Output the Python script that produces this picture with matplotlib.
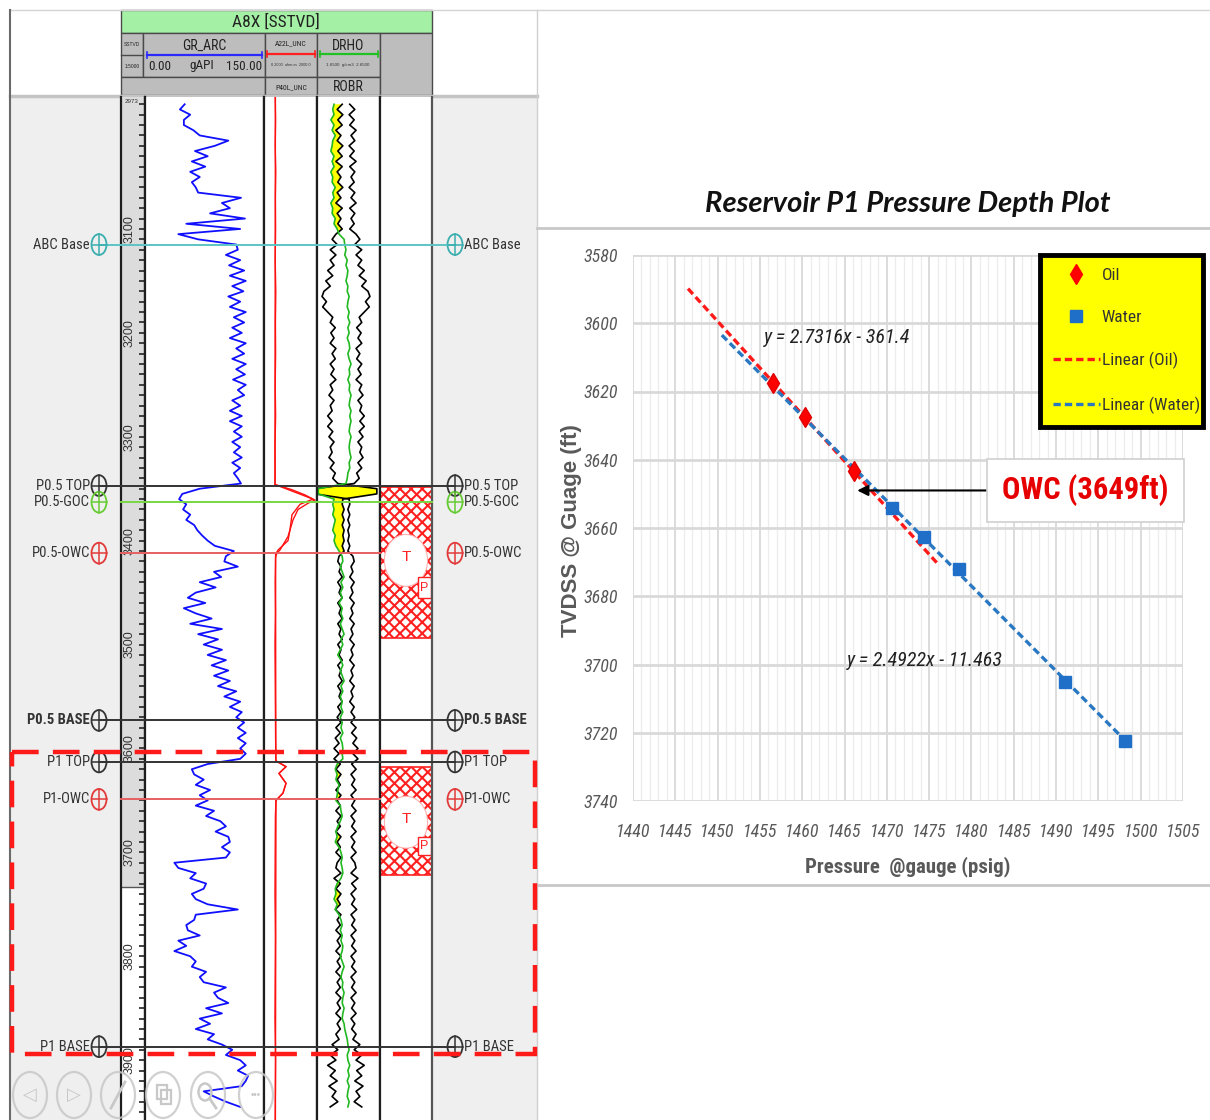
import numpy as np
import matplotlib
matplotlib.use("Agg")
import matplotlib.pyplot as plt
from matplotlib import font_manager as fm
from matplotlib.patches import Rectangle, Ellipse
from matplotlib.lines import Line2D

W, H = 1210, 1120
plt.rcParams["font.family"] = ["Liberation Sans", "DejaVu Sans"]
plt.rcParams["hatch.linewidth"] = 1.5

# pick a narrow sans for the log annotations and chart labels
_fonts = fm.fontManager.ttflist
_names = {f.name for f in _fonts}
if "Liberation Sans Narrow" in _names:
    NARROW = dict(family="Liberation Sans Narrow")
elif "Roboto Condensed" in _names:
    NARROW = dict(family="Roboto Condensed")
elif any(f.name == "DejaVu Sans" and f.stretch == "condensed" for f in _fonts):
    NARROW = dict(family="DejaVu Sans", stretch="condensed")
else:
    NARROW = dict(family="Liberation Sans")

# ---------------- A8X well log (depth ft SSTVD, 5 ft sampling from 2980) ----------------
LOG_START, LOG_STEP = 2980, 5
gr_api = [50, 44, 57, 49, 49, 61, 69, 105, 88, 63, 79, 59, 76, 57, 69, 59, 64, 67, 121, 97, 107, 82, 126, 52, 120, 42,
          67, 115, 117, 102, 120, 106, 125, 107, 127, 110, 124, 105, 120, 107, 127, 112, 125, 110, 122, 107, 127, 115,
          125, 110, 127, 115, 126, 111, 127, 117, 125, 110, 120, 107, 122,
          107, 122,
          112, 122, 110, 120, 112, 122, 110, 120, 112, 117, 121, 69, 47, 43, 52, 48, 57, 52, 62, 66, 72, 79, 88, 112, 102,
          100, 117, 87, 96, 69, 89, 64, 54, 76, 49, 64, 84, 57, 97, 67, 92, 74, 97, 79, 102, 84, 105, 87, 107, 92, 115,
          100, 120, 107, 122, 115, 125, 117, 127, 117, 127, 120,
          127, 120, 79, 59, 62, 74, 64, 82, 69, 79, 64, 87, 77, 95, 102, 89, 105, 107, 97, 107, 102, 37,
          42, 64, 57, 77, 74, 59, 64, 79, 117, 64, 62, 52, 54, 69, 42, 52, 37, 57, 64, 59, 77, 69, 74, 102, 87, 92, 105,
          77, 97, 69, 82, 64, 87, 79, 97, 110, 102, 120, 127, 117, 130, 127, 122, 74, 87, 102, 120]

robr = [2.05, 1.97, 2.06, 1.98, 2.05, 1.95, 2.03, 1.97, 2.06, 1.98, 2.05, 1.95, 2.05, 1.97, 2.03, 1.98, 2.06, 1.97,
        2.03, 1.95, 2.05, 1.97, 2.03, 1.98, 2.05, 1.95,
        1.89, 1.97, 1.86, 1.95, 1.86, 1.92, 1.82, 1.90, 1.79, 1.86, 1.76, 1.73, 1.80, 1.74, 1.82, 1.90, 1.86, 1.94,
        1.87, 1.92, 1.86, 1.95, 1.89, 1.94, 1.86, 1.92, 1.87, 1.95, 1.86, 1.90, 1.84, 1.92, 1.86, 1.89, 1.82,
        1.89, 1.82,
        1.90, 1.84, 1.92, 1.86, 1.89, 1.84, 1.92, 1.86, 1.94, 1.90, 1.98, 2.60, 2.60, 2.06, 2.05, 2.08, 2.05, 2.08,
        2.05, 2.08, 2.06, 2.08, 2.05, 2.08, 2.00,
        1.98, 2.03, 2.00, 2.05, 1.98, 2.03, 2.00, 2.05, 1.98, 2.03, 2.00, 2.05, 1.98, 2.03, 2.00, 2.05, 1.98, 2.03,
        2.00, 2.05, 1.98, 2.03, 2.00, 2.05, 1.98, 2.03, 2.00, 2.05, 1.98, 2.03, 1.97, 2.03, 1.95, 2.02, 1.94, 2.00, 1.92,
        2.00, 1.92, 2.02, 1.95, 2.03, 1.97, 2.02, 1.95, 2.03, 1.97, 2.02, 1.95, 2.03, 1.97, 2.02, 1.95, 2.03, 1.97,
        2.02, 1.95, 2.03, 1.97,
        1.95, 2.03, 1.92, 2.02, 1.95, 2.03, 1.97, 2.02, 1.94, 2.03, 1.97, 2.02, 1.95, 2.03, 1.97, 2.02, 1.95, 2.03,
        1.97, 2.02, 1.95, 2.03, 1.97, 2.02, 1.95, 2.03, 1.97, 2.02, 1.95, 2.03, 1.97, 2.02, 1.95, 2.00,
        1.89, 1.98, 1.86, 1.95, 1.82, 1.94, 1.86, 1.97, 1.84, 1.95, 1.89, 1.98, 1.86]

drho = [1.92, 1.90, 1.92, 1.87, 1.92, 1.89, 1.94, 1.90, 1.89, 1.87, 1.92, 1.89, 1.92, 1.87, 1.90, 1.89, 1.94, 1.90,
        1.92, 1.87, 1.90, 1.89, 1.94, 1.92, 1.97, 2.00,
        2.08, 2.09, 2.11, 2.09, 2.13, 2.11, 2.14, 2.13, 2.11, 2.14, 2.13, 2.16, 2.14, 2.13, 2.16, 2.14, 2.17, 2.14,
        2.16, 2.13, 2.16, 2.17, 2.14, 2.16, 2.19, 2.16, 2.17, 2.14, 2.17, 2.16, 2.19, 2.17, 2.16, 2.19, 2.17,
        2.19, 2.17,
        2.16, 2.19, 2.17, 2.16, 2.17, 2.19, 2.16, 2.17, 2.14, 2.13, 2.11, 1.67, 1.67, 1.92, 1.90, 1.92, 1.90, 1.94,
        1.92, 1.90, 1.94, 1.92, 1.95, 2.00, 2.05,
        2.06, 2.02, 2.05, 2.08, 2.03, 2.06, 2.02, 2.05, 2.00, 2.05, 2.03, 2.06, 2.02, 2.05, 2.08, 2.03, 2.06, 2.02,
        1.98, 2.03, 2.06, 2.02, 2.05, 2.08, 2.03, 2.06, 2.02, 2.05, 2.03, 2.06, 2.02, 2.05, 2.03, 2.06, 2.02, 2.05, 2.06,
        2.05, 2.06, 1.97, 1.94, 1.97, 1.95, 2.00, 1.98, 1.97, 1.95, 2.02, 2.03, 2.05, 2.02, 1.98, 1.95, 1.97, 1.94,
        2.00, 2.03, 2.05, 2.03,
        2.05, 2.06, 2.03, 1.97, 1.94, 1.95, 1.92, 1.97, 1.94, 2.00, 2.03, 2.05, 2.02, 2.05, 2.03, 2.06, 2.05, 2.02,
        2.05, 2.08, 2.05, 2.03, 2.06, 2.05, 2.08, 2.06, 2.05, 2.08, 2.06, 2.05, 2.08, 2.09, 2.11, 2.13,
        2.14, 2.16, 2.13, 2.14, 2.17, 2.14, 2.16, 2.13, 2.16, 2.14, 2.13, 2.16, 2.14]
ROBR_AXIS = 2.11  # ROBR is shown mirrored about this value

res_depth = [2973, 2995, 3020, 3045, 3070, 3100, 3130, 3160, 3190, 3220, 3250, 3280, 3310, 3335, 3346,
             3351, 3356, 3361, 3364, 3370, 3380, 3396, 3409, 3412, 3416, 3440, 3470, 3500, 3530, 3560,
             3590, 3612, 3617.5, 3624, 3633.5, 3643, 3650, 3665, 3700, 3740, 3780, 3820, 3860, 3900, 3958]
a22l = [1.4, 1.5, 1.4, 1.55, 1.45, 1.5, 1.4, 1.55, 1.45, 1.5, 1.4, 1.5, 1.35, 1.4, 1.35,
        26, 249, 1416, 419, 74, 31, 13, 3.2, 1.9, 1.5, 1.4, 1.45, 1.35, 1.4, 1.45,
        1.5, 1.6, 9.2, 2.7, 9.2, 5.4, 1.6, 1.45, 1.4, 1.35, 1.45, 1.4, 1.35, 1.5, 1.4]
p40l_depth = [2973, 3346, 3360, 3365, 3375, 3390, 3400, 3409, 3413, 3612, 3617.5, 3624, 3633.5, 3643, 3650, 3958]
p40l = [1.45, 1.35, 1000, 105, 26, 18, 13, 2.3, 1.5, 1.55, 9.2, 2.7, 9.2, 5.4, 1.6, 1.45]

top_names = ["ABC Base", "P0.5 TOP", "P0.5-GOC", "P0.5-OWC", "P0.5 BASE", "P1 TOP", "P1-OWC", "P1 BASE"]
top_depths = [3115, 3347, 3363, 3412, 3573, 3613, 3649, 3887]
top_colors = ["#3aaeae", "#333333", "#66cc33", "#e23a3a", "#333333", "#333333", "#e23a3a", "#333333"]

test_intervals = [(3348, 3494), (3617.5, 3722)]
test_t_depth = [3419, 3671]
test_p_box = [(3434.7, 3455.5), (3685, 3702.5)]

# ---------------- reservoir P1 pressure points ----------------
oil_pressure = [1456.6, 1460.3, 1466.1]
oil_depth = [3617.5, 3627.6, 3643.3]
water_pressure = [1470.6, 1474.4, 1478.5, 1491.1, 1498.2]
water_depth = [3654.0, 3662.5, 3672.1, 3705.2, 3722.3]
oil_fit = (2.7316, -361.4)
water_fit = (2.4922, -11.463)
oil_fit_range = (1446.5, 1476.0)
water_fit_range = (1450.5, 1498.5)
owc_depth = 3649
owc_pressure = 1466.5


def frac(x0, y0, x1, y1):
    return [x0 / W, 1 - y1 / H, (x1 - x0) / W, (y1 - y0) / H]


fig = plt.figure(figsize=(W / 100, H / 100), dpi=100)
fig.patch.set_facecolor("white")

bg = fig.add_axes([0, 0, 1, 1], zorder=0)
bg.set_xlim(0, W)
bg.set_ylim(H, 0)
bg.axis("off")

# page frame and log canvas
bg.add_patch(Rectangle((10, 96), 527, H - 96, color="#efefef", lw=0))
bg.plot([10, 537], [96, 96], color="#c4c4c4", lw=2.5)
bg.plot([10, W], [10, 10], color="#d4d4d4", lw=1)
bg.plot([10, 10], [10, H], color="#6a6a6a", lw=1.5)
bg.plot([537, 537], [10, H], color="#d0d0d0", lw=1)
bg.plot([537, W], [228, 228], color="#c8c8c8", lw=2)
bg.plot([537, W], [885, 885], color="#c8c8c8", lw=2)

# log header
HEAD_GRAY = "#bdbdbd"
EDGE = "#4a4a4a"
bg.add_patch(Rectangle((121, 10), 311, 23, fc="#a4f0a4", ec=EDGE, lw=1))
bg.text(276, 22, "A8X [SSTVD]", ha="center", va="center", fontsize=12.5, color="#222", **NARROW)
for (x0, y0, x1, y1) in [(121, 33, 143, 77), (143, 33, 265, 77), (265, 33, 317, 77), (317, 33, 380, 77),
                         (121, 77, 265, 95), (265, 77, 317, 95), (317, 77, 380, 95), (380, 33, 432, 95)]:
    bg.add_patch(Rectangle((x0, y0), x1 - x0, y1 - y0, fc=HEAD_GRAY, ec=EDGE, lw=1))
bg.plot([121, 143], [55, 55], color=EDGE, lw=1)
bg.text(132, 44, "SSTVD", ha="center", va="center", fontsize=3.5, color="#222")
bg.text(132, 66, "1:5000", ha="center", va="center", fontsize=3.5, color="#222")

bg.text(204, 46, "GR_ARC", ha="center", va="center", fontsize=10, color="#222", **NARROW)
bg.text(148, 66, "0.00", ha="left", va="center", fontsize=9.5, color="#222", **NARROW)
bg.text(202, 66, "gAPI", ha="center", va="center", fontsize=9.5, color="#222", **NARROW)
bg.text(262, 66, "150.00", ha="right", va="center", fontsize=9.5, color="#222", **NARROW)
bg.text(291, 43, "A22L_UNC", ha="center", va="center", fontsize=5.5, color="#222", **NARROW)
bg.text(291, 65, "0.2000  ohm.m  2000.0", ha="center", va="center", fontsize=2.8, color="#333")
bg.text(348, 46, "DRHO", ha="center", va="center", fontsize=10, color="#222", **NARROW)
bg.text(348, 65, "1.6500  g/cm3  2.6500", ha="center", va="center", fontsize=3.2, color="#333")
bg.text(291, 87, "P40L_UNC", ha="center", va="center", fontsize=5.5, color="#222", **NARROW)
bg.text(348, 87, "ROBR", ha="center", va="center", fontsize=10, color="#222", **NARROW)
for (x0, x1, y, c) in [(147, 262, 55, "#2a2aff"), (267, 315, 54, "#ff2020"), (320, 378, 54, "#22c022")]:
    bg.plot([x0, x1], [y, y], color=c, lw=1.6)
    bg.plot([x0, x0], [y - 3, y + 3], color=c, lw=1.2)
    bg.plot([x1, x1], [y - 3, y + 3], color=c, lw=1.2)

# log tracks
LOG_TOP, LOG_BOT = 97, 1120
DEPTH_TOP, DEPTH_BOT = 2973.0, 3957.6
track_px = {"depth": (121, 145), "gr": (145, 264), "res": (264, 317), "dens": (317, 380), "test": (380, 432)}
tr = {}
for key, (x0, x1) in track_px.items():
    a = fig.add_axes(frac(x0, LOG_TOP, x1, LOG_BOT), zorder=1)
    a.set_ylim(DEPTH_BOT, DEPTH_TOP)
    a.set_xticks([])
    a.set_yticks([])
    a.set_facecolor("white")
    for s in ("top", "bottom"):
        a.spines[s].set_visible(False)
    for s in ("left", "right"):
        a.spines[s].set_color("#1e1e1e")
        a.spines[s].set_linewidth(1.6)
    tr[key] = a

gr_depth = LOG_START + LOG_STEP * np.arange(len(gr_api))
robr_depth = LOG_START + LOG_STEP * np.arange(len(robr))
drho_depth = LOG_START + LOG_STEP * np.arange(len(drho))

# depth track
dax = tr["depth"]
dax.set_xlim(0, 1)
dax.add_patch(Rectangle((0, DEPTH_TOP), 1, 3733 - DEPTH_TOP, color="#dcdcdc", lw=0))
dax.plot([0, 1], [3733, 3733], color="#555", lw=1)
dax.yaxis.tick_right()
dax.set_yticks(np.arange(2980, 3958, 10))
dax.tick_params(axis="y", direction="in", length=4, width=1.3, colors="#333",
                labelright=False, labelleft=False)
for d in range(3100, 3901, 100):
    dax.text(0.37, d, str(d), rotation=90, ha="center", va="center", fontsize=9, color="#333")
dax.text(0.45, 2977, "2973", ha="center", va="center", fontsize=4.5, color="#333")

# GR track
gax = tr["gr"]
gax.set_xlim(0, 150)
gax.plot(gr_api, gr_depth, color="#1010ff", lw=1.3)

# resistivity track
rax = tr["res"]
rax.set_xscale("log")
rax.set_xlim(0.2, 2000)
rax.set_xticks([])
rax.minorticks_off()
rax.plot(p40l, p40l_depth, color="#ff1010", lw=1)
rax.plot(a22l, res_depth, color="#ff1010", lw=1)

# density track
nax = tr["dens"]
nax.set_xlim(1.65, 2.65)
robr_arr = np.array(robr)
drho_arr = np.array(drho)
nax.fill_betweenx(drho_depth, drho_arr, robr_arr, where=drho_arr < robr_arr, interpolate=True,
                  color="#ffff00", lw=0)
nax.plot(robr_arr, robr_depth, color="black", lw=1.2)
nax.plot(2 * ROBR_AXIS - robr_arr, robr_depth, color="black", lw=1.2)
nax.plot(drho_arr, drho_depth, color="#22b822", lw=1.2)

# formation test track
tax = tr["test"]
tax.set_xlim(0, 1)
tax.spines["right"].set_color("#555")
for (d0, d1), dt, (p0, p1) in zip(test_intervals, test_t_depth, test_p_box):
    tax.add_patch(Rectangle((0.0, d0), 1.0, d1 - d0, fc="white", ec="#ff2020", lw=1.2, hatch="xxx"))
    tax.add_patch(Ellipse((0.5, dt), 0.83, 50, fc="white", ec="#ffb0b0", lw=0.8))
    tax.text(0.5, dt - 3, "T", ha="center", va="center", fontsize=11, color="#ff2020")
    tax.add_patch(Rectangle((0.73, p0), 0.25, p1 - p0, fc="white", ec="#ff2020", lw=1))
    tax.text(0.855, (p0 + p1) / 2, "P", ha="center", va="center", fontsize=9, color="#ff2020")

# well tops across the panel
ov = fig.add_axes(frac(10, LOG_TOP, 537, LOG_BOT), zorder=3)
ov.set_xlim(10, 537)
ov.set_ylim(DEPTH_BOT, DEPTH_TOP)
ov.axis("off")
for name, d, c in zip(top_names, top_depths, top_colors):
    if "GOC" in name:
        span, lc = (121, 432), "#77d844"
    elif "OWC" in name:
        span, lc = (121, 380), "#e86060"
    elif name == "ABC Base":
        span, lc = (99, 455), "#5cc4c4"
    else:
        span, lc = (99, 455), "#333333"
    ov.plot(span, [d, d], color=lc, lw=1.4)
    for cx in (99, 455):
        ov.add_patch(Ellipse((cx, d), 15, 20, fill=False, ec=c, lw=1.3))
        ov.plot([cx - 7.5, cx + 7.5], [d, d], color=c, lw=1.1)
        ov.plot([cx, cx], [d - 10, d + 10], color=c, lw=1.1)
    weight = "bold" if name == "P0.5 BASE" else "normal"
    ov.text(90, d, name, ha="right", va="center", fontsize=10.5, color="#333", weight=weight, **NARROW)
    ov.text(464, d, name, ha="left", va="center", fontsize=10.5, color="#333", weight=weight, **NARROW)

# ---------------- pressure-depth plot ----------------
ax = fig.add_axes(frac(633, 255, 1183, 801), zorder=2)
ax.set_xlim(1440, 1505)
ax.set_ylim(3740, 3580)
xt = np.arange(1440, 1506, 5)
yt = np.arange(3580, 3741, 20)
tick_font = dict(style="italic", fontsize=13, color="#595959", **NARROW)
ax.set_xticks(xt, [str(v) for v in xt], **tick_font)
ax.set_yticks(yt, [str(v) for v in yt], **tick_font)
ax.set_xticks(np.arange(1440, 1506, 1), minor=True)
ax.grid(which="minor", axis="x", color="#ececec", lw=0.9)
ax.grid(which="major", axis="x", color="#d6d6d6", lw=1.2)
ax.grid(which="major", axis="y", color="#d9d9d9", lw=2)
ax.set_axisbelow(True)
ax.tick_params(which="both", length=0)
ax.tick_params(axis="x", pad=16)
ax.tick_params(axis="y", pad=11)
for s in ax.spines.values():
    s.set_visible(False)

ox = np.array(oil_fit_range)
wx = np.array(water_fit_range)
ax.plot(ox, oil_fit[0] * ox + oil_fit[1], color="#ff1a1a", lw=2.4, ls=(0, (2.2, 1.2)), zorder=3)
ax.plot(wx, water_fit[0] * wx + water_fit[1], color="#2b78c2", lw=2.4, ls=(0, (2.2, 1.2)), zorder=3)
ax.plot(oil_pressure, oil_depth, ls="none", marker="d", ms=10, color="#ff0000", mec="#e00000", zorder=4)
ax.plot(water_pressure, water_depth, ls="none", marker="s", ms=9, color="#1f6fc8", mec="#1f6fc8", zorder=4)

eq_font = dict(style="italic", fontsize=14.5, color="#222", **NARROW)
ax.text(1464.1, 3604.3, f"y = {oil_fit[0]}x - {abs(oil_fit[1])}", ha="center", va="center", **eq_font)
ax.text(1474.5, 3698.7, f"y = {water_fit[0]}x - {abs(water_fit[1])}", ha="center", va="center", **eq_font)

ax.annotate(f"OWC ({owc_depth}ft)", xy=(owc_pressure, owc_depth), xytext=(1493.5, owc_depth),
            ha="center", va="center", fontsize=22, weight="bold", color="#e60000",
            bbox=dict(boxstyle="square,pad=0.5", fc="white", ec="#d0d0d0", lw=1.2),
            arrowprops=dict(arrowstyle="-|>", color="black", lw=1.5, mutation_scale=16,
                            shrinkA=0, shrinkB=0), zorder=6, **NARROW)

handles = [Line2D([], [], ls="none", marker="d", ms=10, color="#ff0000"),
           Line2D([], [], ls="none", marker="s", ms=8, color="#1f6fc8"),
           Line2D([], [], color="#ff1a1a", lw=2.4, ls=(0, (2.2, 1.2))),
           Line2D([], [], color="#2b78c2", lw=2.4, ls=(0, (2.2, 1.2)))]
leg = fig.legend(handles, ["Oil", "Water", "Linear (Oil)", "Linear (Water)"],
                 loc="upper left", bbox_to_anchor=(1040 / W, 1 - 428 / H, 163 / W, 173 / H),
                 mode="expand", prop=dict(size=12.5, **NARROW), labelcolor="#333",
                 frameon=True, fancybox=False, borderpad=0.75, labelspacing=1.55,
                 handlelength=2.7, handletextpad=0.1, borderaxespad=0)
leg.get_frame().set_facecolor("#ffff00")
leg.get_frame().set_edgecolor("black")
leg.get_frame().set_linewidth(3.5)
leg.get_frame().set_alpha(1)
leg.set_zorder(7)

bg.text(908, 204, "Reservoir P1 Pressure Depth Plot", ha="center", va="center", fontsize=21,
        family=["Lato", "DejaVu Sans"], weight="bold", style="italic", color="#111")
bg.text(572, 531, "TVDSS @ Guage (ft)", ha="center", va="center", rotation=90, fontsize=16,
        weight="bold", color="#595959")
bg.text(908, 867, "Pressure  @gauge (psig)", ha="center", va="center", fontsize=15,
        weight="bold", color="#595959", **NARROW)

# ---------------- foreground: highlight box and slide controls ----------------
fg = fig.add_axes([0, 0, 1, 1], zorder=5)
fg.set_xlim(0, W)
fg.set_ylim(H, 0)
fg.axis("off")
fg.add_patch(Rectangle((12, 752), 523, 302, fill=False, ec="#ff1a1a", lw=3.2, ls=(0, (6, 3.2))))

ICON = "#c8c8c8"
for cx in (30, 74, 118, 163, 208, 256):
    fg.add_patch(Ellipse((cx, 1095), 34, 46, fill=False, ec=ICON, lw=1.6, alpha=0.85))
fg.text(30, 1095, "\u25C1", ha="center", va="center", fontsize=13, color=ICON)
fg.text(74, 1095, "\u25B7", ha="center", va="center", fontsize=13, color=ICON)
fg.plot([111, 125], [1108, 1082], color=ICON, lw=2)
fg.add_patch(Rectangle((157, 1085), 10, 14, fill=False, ec=ICON, lw=1.6))
fg.add_patch(Rectangle((161, 1090), 10, 14, fill=False, ec=ICON, lw=1.6))
fg.add_patch(Ellipse((205, 1092), 13, 17, fill=False, ec=ICON, lw=1.8))
fg.plot([210, 216], [1099, 1108], color=ICON, lw=2)
fg.text(256, 1095, "\u2022\u2022\u2022", ha="center", va="center", fontsize=7, color=ICON)

fig.savefig("out.png", dpi=100, facecolor="white")
